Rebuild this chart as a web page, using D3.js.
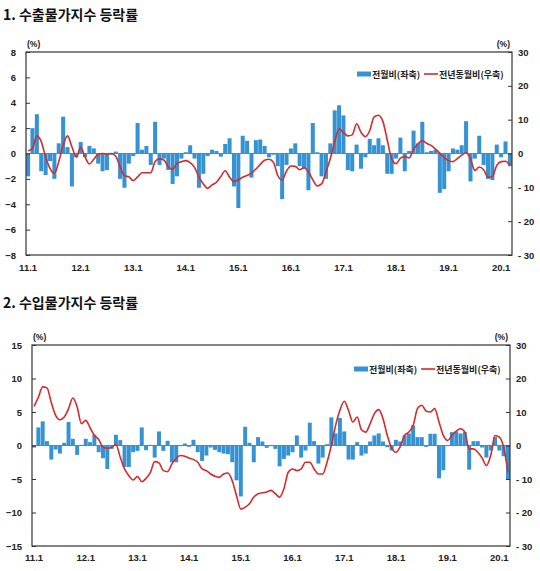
<!DOCTYPE html>
<html>
<head>
<meta charset="utf-8">
<script src="https://cdn.jsdelivr.net/npm/d3@7"></script>
<style>
  body { margin: 0; background: #fff; }
  svg { display: block; }
  text { font-family: "Liberation Sans", Arial, "Noto Sans CJK KR", sans-serif; fill: #222; }
  .kr { font-family: "Noto Sans CJK KR", sans-serif; }
</style>
</head>
<body>
<svg id="chart" width="540" height="571"></svg>
<script>
// ---- categories (monthly, 2011.1 – 2020.3) ----
const months = [];
for (let y = 11; y <= 20; y++) {
  for (let m = 1; m <= 12; m++) {
    if (y === 20 && m > 3) break;
    months.push(y + "." + m);
  }
}
const tickLabels = ["11.1","12.1","13.1","14.1","15.1","16.1","17.1","18.1","19.1","20.1"];

// ---- panel 1: export price index ----
const exportMoM = [
  -1.8, 2.0, 3.1, -1.4, -1.7, -0.6, -2.0, 0.8, 2.9, 0.5, -2.6, -0.3,
  0.9, -0.3, 0.6, 0.4, -0.8, -1.4, -1.3, -0.1, 0.15, -2.0, -2.7, -0.8,
  -0.2, 2.4, 0.3, 0.6, -0.9, 2.5, -0.9, -0.4, -1.3, -2.4, -1.8, -0.4,
  0.1, 0.65, -0.4, -2.7, -1.6, -0.2, 0.3, 0.2, -0.25, 0.75, 1.2, -2.6,
  -4.3, 1.4, 1.0, -1.9, 1.05, 1.1, 0.6, -0.3, -0.1, -1.0, -3.6, -0.9,
  0.4, 0.8, -1.0, -1.2, -2.9, 2.4, 0.1, -1.8, -2.0, 0.8, 3.4, 3.8,
  3.0, -1.3, -1.4, 0.7, -1.2, -0.3, 1.15, 0.65, 1.2, 0.65, -1.6, -1.6,
  -0.4, 1.25, -1.4, 0.2, 1.8, 0.8, 2.5, 0.1, 0.2, 0.3, -3.1, -2.8,
  -1.4, 0.4, 0.3, 0.65, 2.55, -2.2, -0.4, 1.4, -0.9, -2.0, -2.1, 0.7,
  -0.3, 0.95, -1.0
];
const exportYoY = [
  0.8, 1.5, 5.2, 3.5, -1.0, -4.4, -5.9, -2.4, 2.5, 5.2, 2.0, -1.0,
  1.8, -1.0, -3.1, -1.7, -0.2, 0.0, -0.2, 0.0, -0.8, -3.9, -6.6, -6.9,
  -8.0, -6.9, -5.7, -5.7, -5.7, -2.4, -1.6, -1.9, -3.9, -4.7, -2.9, -2.4,
  -2.1, -2.7, -4.1, -6.9, -9.0, -10.3, -9.3, -8.5, -6.8, -5.1, -7.0, -8.3,
  -7.8, -7.0, -6.5, -5.8, -4.6, -3.2, -2.0, -1.7, -2.6, -6.5, -7.8, -5.2,
  -3.7, -3.8, -4.8, -4.2, -5.4, -7.8, -9.6, -9.0, -5.5, -1.5, 3.5, 7.3,
  6.2, 5.2, 5.5, 8.8, 6.3, 5.0, 6.8, 10.8, 11.3, 9.5, 4.0, -1.5,
  -3.0, -1.4, -0.9, -1.3, 1.2, 2.8, 3.8, 3.0, 2.4, 1.3, 0.1, -1.2,
  -2.1, -2.4, -1.5, -0.5, 0.2, -1.6, -5.0, -4.0, -4.8, -7.0, -6.8, -3.5,
  -2.4, -2.3, -3.5
];
const exportLeftTicks = [-8, -6, -4, -2, 0, 2, 4, 6, 8];
const exportRightTicks = [-30, -20, -10, 0, 10, 20, 30];

// ---- panel 2: import price index ----
const importMoM = [
  -0.3, 2.7, 3.6, 0.65, -2.1, -0.6, -1.2, 0.4, 3.5, 1.0, -1.4, 0.1,
  1.0, 0.5, 1.6, -1.0, -1.9, -3.5, -0.5, 1.6, 0.8, -3.2, -3.2, -1.0,
  -0.8, 2.7, -0.7, 0.1, -1.8, 2.1, -0.8, 0.7, -2.5, -2.5, -0.1, 0.3,
  -0.2, 0.85, -1.0, -2.3, -1.5, -0.3, -0.65, -1.0, -1.2, -1.3, -2.5, -5.2,
  -7.6, 2.8, 0.4, -2.5, 1.25, 0.6, -0.35, -0.1, -0.5, -3.1, -2.0, -1.5,
  -1.0, 1.5, -1.8, -0.75, 3.4, 0.65, -2.7, -1.8, 0.2, 4.2, 1.8, 4.1,
  2.1, -2.1, -2.1, 0.5, -1.5, -1.2, 0.6, 1.5, 1.8, 0.6, -0.25, -0.75,
  0.85, 0.6, 1.5, 1.8, 3.0, 1.25, 1.25, -0.2, 1.75, 1.75, -4.9, -3.7,
  -0.1, 2.0, 2.1, 1.8, 2.0, -3.6, 0.65, 0.65, -0.3, -1.8, -0.75, 1.25,
  -0.75, -1.6, -5.1
];
const importYoY = [
  11.7, 14.4, 17.5, 17.2, 12.8, 9.0, 7.7, 8.5, 11.0, 14.2, 11.5, 6.5,
  7.5, 5.3, 3.0, 1.8, -0.5, -0.8, -0.6, 0.3, -3.5, -7.0, -9.0, -10.3,
  -9.3, -10.8, -9.8, -8.0, -4.8, -5.2, -7.5, -7.8, -5.5, -3.8, -3.0, -3.2,
  -3.8, -4.2, -5.0, -7.0, -7.5, -8.5, -9.2, -9.5, -8.5, -8.2, -10.5, -15.0,
  -19.0, -18.4, -17.4, -15.4, -14.4, -14.1, -13.9, -13.4, -14.4, -15.4, -12.9, -8.0,
  -7.0, -7.5, -7.0, -5.0, -5.0, -7.0, -8.5, -8.5, -5.0, 0.0, 6.0, 10.5,
  13.2, 10.5, 7.0, 8.5, 4.7, 4.0, 6.5, 9.5, 10.7, 8.0, 3.0, -0.7,
  -2.0, -0.3, 3.0, 4.0, 6.0, 11.0, 12.0, 10.3, 10.0, 11.0, 7.0, 3.0,
  1.5, 3.0, 4.3, 5.0, 4.0, -1.0, -1.0, -2.0, -3.7, -6.0, -3.0, 3.0,
  2.5, -0.5, -8.0
];
const importLeftTicks = [-15, -10, -5, 0, 5, 10, 15];
const importRightTicks = [-30, -20, -10, 0, 10, 20, 30];

const legendLabels = ["전월비(좌축)", "전년동월비(우축)"];
const titles = ["1. 수출물가지수 등락률", "2. 수입물가지수 등락률"];

const BLUE = "#3593d3";
const RED = "#d62a2c";

const svg = d3.select("#chart");

function drawPanel(o) {
  const g = svg.append("g");
  const x = d3.scaleBand().domain(months).range([o.x0, o.x1]).paddingInner(0.08).paddingOuter(0.02);
  const yL = d3.scaleLinear().domain(o.leftDomain).range([o.y1, o.y0]);
  const yR = d3.scaleLinear().domain(o.rightDomain).range([o.y1, o.y0]);

  // title
  g.append("text").attr("class", "kr").attr("x", 3).attr("y", o.titleY)
    .attr("font-size", 14).attr("font-weight", "bold").style("fill", "#111").text(o.title);

  // bars
  g.append("g").selectAll("rect").data(o.mom).join("rect")
    .attr("x", (d, i) => x(months[i]))
    .attr("width", x.bandwidth())
    .attr("y", d => Math.min(yL(d), yL(0)))
    .attr("height", d => Math.abs(yL(d) - yL(0)))
    .attr("fill", BLUE);

  // zero line
  g.append("line").attr("x1", o.x0).attr("x2", o.x1)
    .attr("y1", yL(0)).attr("y2", yL(0))
    .attr("stroke", BLUE).attr("stroke-width", 1);

  // red line
  const line = d3.line()
    .x((d, i) => x(months[i]) + x.bandwidth() / 2)
    .y(d => yR(d))
    .curve(d3.curveMonotoneX);
  g.append("path").datum(o.yoy).attr("d", line)
    .attr("fill", "none").attr("stroke", RED).attr("stroke-width", 1.6);

  // frame
  g.append("rect").attr("x", o.x0).attr("y", o.y0)
    .attr("width", o.x1 - o.x0).attr("height", o.y1 - o.y0)
    .attr("fill", "none").attr("stroke", "#333").attr("stroke-width", 1.2);

  // left axis
  const la = g.append("g").attr("transform", `translate(${o.x0},0)`)
    .call(d3.axisLeft(yL).tickValues(o.leftTicks).tickSize(-4).tickPadding(o.leftPad));
  la.select(".domain").remove();
  la.selectAll("line").attr("stroke", "#333");
  la.selectAll("text").attr("font-size", 9.5).attr("font-weight", "bold").style("fill", "#222");

  // right axis
  const ra = g.append("g").attr("transform", `translate(${o.x1},0)`)
    .call(d3.axisRight(yR).tickValues(o.rightTicks).tickSize(-4).tickPadding(6)
      .tickFormat(d => d < 0 ? "- " + Math.abs(d) : d));
  ra.select(".domain").remove();
  ra.selectAll("line").attr("stroke", "#333");
  ra.selectAll("text").attr("font-size", 9.5).attr("font-weight", "bold").style("fill", "#222");

  // x labels
  const xa = g.append("g").attr("transform", `translate(0,${o.y1})`)
    .call(d3.axisBottom(x).tickValues(tickLabels).tickSize(0).tickPadding(o.xPad));
  xa.select(".domain").remove();
  xa.selectAll("text").attr("font-size", 9.5).attr("font-weight", "bold").style("fill", "#222");

  // unit labels
  g.append("text").attr("x", o.x0 + 1).attr("y", o.y0 - 5)
    .attr("font-size", 8.5).attr("font-weight", "bold").text("(%)");
  g.append("text").attr("x", o.x1 - 2).attr("y", o.y0 - 5).attr("text-anchor", "end")
    .attr("font-size", 8.5).attr("font-weight", "bold").text("(%)");

  // legend
  const lg = g.append("g").attr("transform", `translate(${o.legX},${o.legY})`);
  lg.append("rect").attr("x", 0).attr("y", -2.5).attr("width", 14).attr("height", 5).attr("fill", BLUE);
  lg.append("text").attr("class", "kr").attr("x", 15).attr("y", 3.5)
    .attr("font-size", 9).attr("font-weight", "bold").text(legendLabels[0]);
  lg.append("line").attr("x1", 67).attr("x2", 81).attr("y1", 0).attr("y2", 0)
    .attr("stroke", RED).attr("stroke-width", 1.6);
  lg.append("text").attr("class", "kr").attr("x", 82).attr("y", 3.5)
    .attr("font-size", 9).attr("font-weight", "bold").text(legendLabels[1]);
}

drawPanel({
  title: titles[0], titleY: 20,
  x0: 26, x1: 512, y0: 52, y1: 255,
  leftDomain: [-8, 8], rightDomain: [-30, 30],
  leftTicks: exportLeftTicks, rightTicks: exportRightTicks,
  mom: exportMoM, yoy: exportYoY,
  leftPad: 10, xPad: 9,
  legX: 357, legY: 74
});

drawPanel({
  title: titles[1], titleY: 308,
  x0: 32, x1: 510, y0: 345, y1: 546,
  leftDomain: [-15, 15], rightDomain: [-30, 30],
  leftTicks: importLeftTicks, rightTicks: importRightTicks,
  mom: importMoM, yoy: importYoY,
  leftPad: 10, xPad: 8,
  legX: 354, legY: 369
});
</script>
</body>
</html>
